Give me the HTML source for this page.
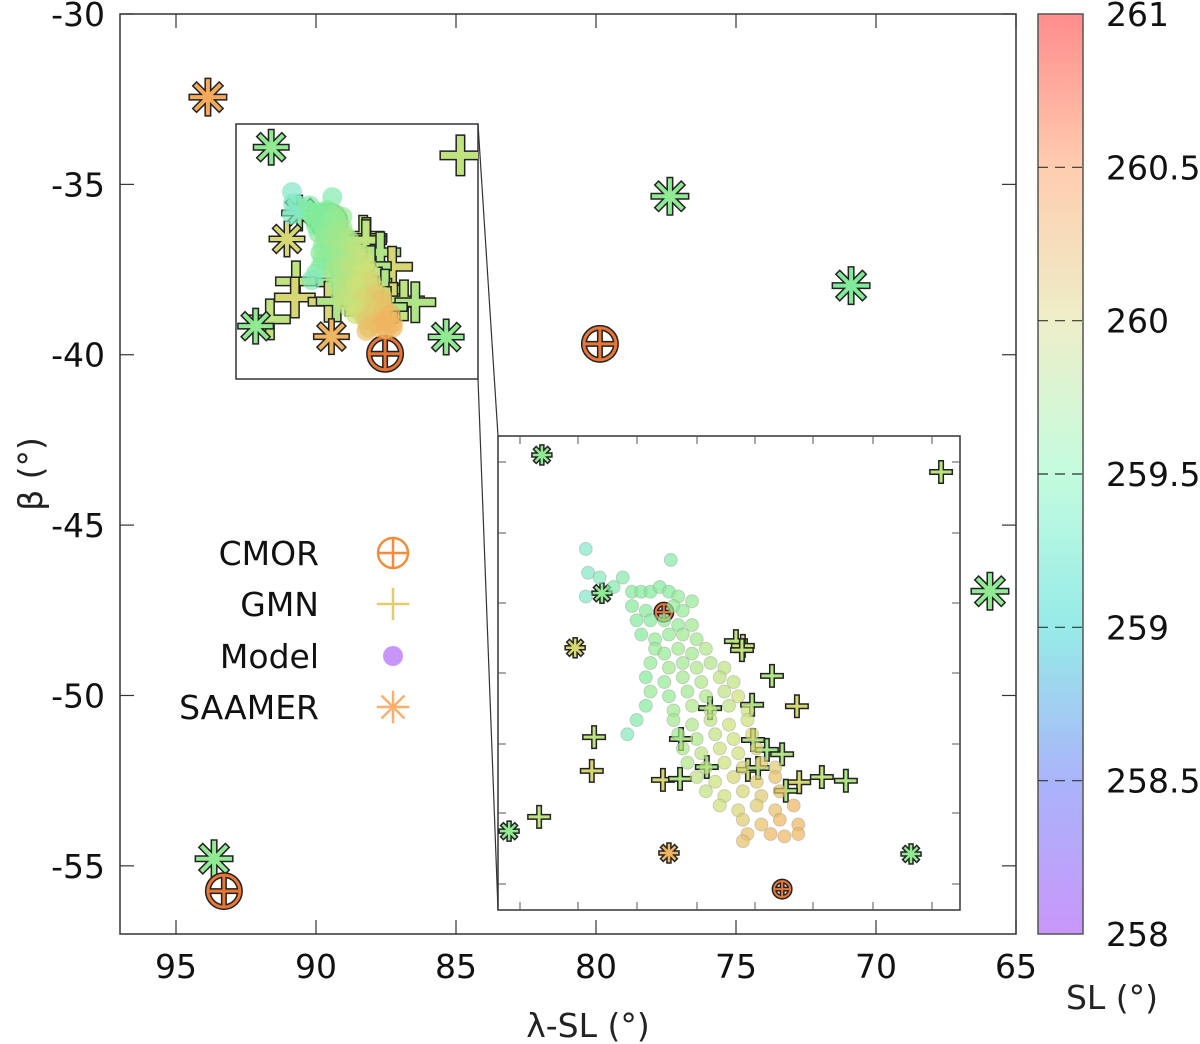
<!DOCTYPE html>
<html><head><meta charset="utf-8">
<style>
html,body{margin:0;padding:0;background:#fff;}
svg{display:block;font-family:"DejaVu Sans","Liberation Sans",sans-serif;}
</style></head>
<body>
<svg id="chart" width="1200" height="1044" viewBox="0 0 1200 1044" xmlns="http://www.w3.org/2000/svg">
<defs>
<clipPath id="clip1"><rect x="236" y="125" width="242" height="253"/></clipPath>
<clipPath id="clip2"><rect x="498" y="436" width="462" height="474"/></clipPath>
<linearGradient id="cbgrad" x1="0" y1="1" x2="0" y2="0">
<stop offset="0" stop-color="rgb(200,150,250)"/>
<stop offset="0.1667" stop-color="rgb(170,180,250)"/>
<stop offset="0.3333" stop-color="rgb(150,235,232)"/>
<stop offset="0.5" stop-color="rgb(195,252,222)"/>
<stop offset="0.6667" stop-color="rgb(238,238,200)"/>
<stop offset="0.8333" stop-color="rgb(255,205,175)"/>
<stop offset="1" stop-color="rgb(255,140,140)"/>
</linearGradient>
</defs>
<g id="main"></g>
</svg>
<script>
// ---- data ----
const xTicks = [95, 90, 85, 80, 75, 70, 65];
const yTicks = [-30, -35, -40, -45, -50, -55];
const cbTicks = [258, 258.5, 259, 259.5, 260, 260.5, 261];
const cbLabels = ["258", "258.5", "259", "259.5", "260", "260.5", "261"];
// main-plot markers (λ-SL, β, SL)
const mainSaamerLam = [93.86, 77.36, 70.89, 65.93, 93.64];
const mainSaamerBeta = [-32.44, -35.35, -37.97, -46.94, -54.79];
const mainSaamerSL = [260.5, 259.6, 259.5, 259.6, 259.6];
const mainCmorLam = [79.86, 93.29];
const mainCmorBeta = [-39.68, -55.74];
// inset data (inset units u, v)
const gmnU = [9.59,5.15,5.30,5.28,5.93,6.47,5.50,4.59,2.08,3.96,5.52,5.82,6.15,2.03,4.52,5.41,5.63,3.57,3.94,6.52,7.01,7.53,6.23,0.89];
const gmnV = [0.78,4.34,4.44,4.53,5.07,5.71,5.68,5.75,6.36,6.40,6.42,6.63,6.72,7.07,6.99,7.05,7.01,7.26,7.24,7.31,7.20,7.28,7.49,8.04];
const gmnSL = [259.9,259.9,260.0,259.9,259.8,260.1,259.8,259.7,259.9,259.8,259.8,259.7,259.8,260.1,259.7,260.0,259.8,260.1,259.8,260.1,259.9,259.8,259.8,259.9];
const saamerU = [0.95,2.25,1.67,0.24,3.70,8.94];
const saamerV = [0.42,3.33,4.48,8.34,8.80,8.82];
const saamerSL = [259.6,259.6,260.1,259.6,260.4,259.6];
const cmorU = [3.59,6.15];
const cmorV = [3.73,9.56];
const modelU = [1.9,3.74,1.95,2.2,2.7,2.5,1.9,2.9,3.1,3.3,3.5,3.7,3.9,4.2,2.9,3.2,3.8,4.0,3.0,3.3,3.6,3.9,4.2,3.1,3.4,3.7,4.0,4.3,3.4,3.6,3.9,4.2,4.5,3.3,3.7,4.0,4.3,4.6,4.9,3.2,3.6,4.0,4.4,4.8,5.1,3.3,3.7,4.1,4.5,4.9,5.2,3.2,3.8,4.2,4.6,5.0,5.4,3.0,3.8,4.2,4.6,5.0,5.4,2.8,3.9,4.3,4.7,5.1,5.5,4.0,4.4,4.8,5.2,5.6,4.1,4.5,4.9,5.3,5.7,6.0,4.3,4.7,5.1,5.6,6.0,4.5,4.9,5.3,5.7,6.1,4.8,5.2,5.6,6.0,6.4,5.3,5.7,6.1,6.5,5.4,5.9,6.2,6.5,5.3];
const modelV = [2.4,2.63,2.9,3.0,3.0,3.2,3.4,3.3,3.3,3.3,3.2,3.3,3.4,3.5,3.6,3.7,3.6,3.7,3.9,3.9,3.9,4.0,4.0,4.2,4.3,4.2,4.2,4.3,4.5,4.6,4.5,4.6,4.5,4.8,4.9,4.8,4.9,4.8,4.9,5.1,5.2,5.1,5.2,5.1,5.2,5.4,5.5,5.4,5.5,5.4,5.5,5.7,5.8,5.7,5.8,5.7,5.8,6.0,6.0,6.1,6.0,6.1,6.0,6.3,6.3,6.4,6.3,6.4,6.3,6.6,6.7,6.6,6.7,6.6,6.9,7.0,6.9,7.0,6.9,7.0,7.2,7.3,7.2,7.3,7.2,7.5,7.6,7.5,7.6,7.5,7.8,7.9,7.8,7.9,7.8,8.1,8.2,8.1,8.2,8.4,8.4,8.45,8.4,8.55];
const modelSL = [259.2,259.4,259.2,259.3,259.4,259.4,259.2,259.5,259.5,259.5,259.5,259.5,259.6,259.6,259.5,259.5,259.6,259.6,259.5,259.5,259.6,259.6,259.7,259.5,259.6,259.6,259.7,259.7,259.6,259.6,259.7,259.7,259.8,259.6,259.7,259.7,259.8,259.8,259.9,259.5,259.6,259.7,259.8,259.9,259.9,259.6,259.6,259.7,259.8,259.9,260.0,259.5,259.7,259.8,259.9,259.9,260.0,259.4,259.7,259.8,259.9,260.0,260.0,259.3,259.7,259.8,259.9,260.0,260.1,259.8,259.9,260.0,260.0,260.1,259.8,259.9,260.0,260.1,260.2,260.2,259.9,260.0,260.1,260.2,260.3,259.9,260.0,260.1,260.2,260.3,260.0,260.1,260.2,260.3,260.4,260.2,260.3,260.4,260.4,260.3,260.4,260.4,260.4,260.3];

// ---- scales ----
const X0=120, X1=1016, Y0=14, Y1=934;
const xMain = l => X0 + (97 - l) / 32 * (X1 - X0);
const yMain = b => Y0 + (-30 - b) / 27 * (Y1 - Y0);
const CB_X=1038, CB_W=45;
const yCb = s => Y1 - (s - 258) / 3 * (Y1 - Y0);
const xIn2 = u => 498 + u * 46.2;
const yIn2 = v => 435 + v * 47.5;
const xIn1 = u => 250.4 + u * 21.9;
const yIn1 = v => 137.7 + v * 22.6;

const stops = [[258,[200,150,250]],[258.5,[160,175,250]],[259,[130,228,228]],[259.5,[130,235,155]],[260,[205,225,120]],[260.5,[248,170,90]],[261,[255,140,140]]];
function cmap(s){
  if(s<=stops[0][0]) return 'rgb('+stops[0][1]+')';
  for(let i=1;i<stops.length;i++){
    if(s<=stops[i][0]){
      const t=(s-stops[i-1][0])/(stops[i][0]-stops[i-1][0]);
      const a=stops[i-1][1], b=stops[i][1];
      return 'rgb('+a.map((c,k)=>Math.round(c+(b[k]-c)*t)).join(',')+')';
    }
  }
  return 'rgb('+stops[stops.length-1][1]+')';
}

const NS='http://www.w3.org/2000/svg';
const root=document.getElementById('main');
function el(tag, attrs, parent){
  const e=document.createElementNS(NS,tag);
  for(const k in attrs) e.setAttribute(k,attrs[k]);
  (parent||root).appendChild(e);
  return e;
}

function drawStar(g,cx,cy,r,col,outline,sw){
  const grp=el('g',{},g);
  
  
  const angs=[0,45,90,135];
  if(outline){
    angs.forEach(a=>{const c=Math.cos(a*Math.PI/180)*r,s=Math.sin(a*Math.PI/180)*r;
      el('line',{x1:cx-c,y1:cy-s,x2:cx+c,y2:cy+s,stroke:'#222','stroke-width':sw+3,'stroke-linecap':'square'},grp);});
  }
  angs.forEach(a=>{const c=Math.cos(a*Math.PI/180)*r,s=Math.sin(a*Math.PI/180)*r;
    el('line',{x1:cx-c,y1:cy-s,x2:cx+c,y2:cy+s,stroke:col,'stroke-width':sw,'stroke-linecap':'square'},grp);});
}
function drawPlus(g,cx,cy,r,col,outline,sw){
  const grp=el('g',{},g);
  
  
  if(outline){
    el('path',{d:`M${cx-r},${cy}H${cx+r}M${cx},${cy-r}V${cy+r}`,stroke:'#222','stroke-width':sw+3,'stroke-linecap':'square',fill:'none'},grp);
  }
  el('path',{d:`M${cx-r},${cy}H${cx+r}M${cx},${cy-r}V${cy+r}`,stroke:col,'stroke-width':sw,'stroke-linecap':'square',fill:'none'},grp);
}
function drawCmor(g,cx,cy,r,col,outline,sw){
  const grp=el('g',{},g);
  
  
  if(outline){
    el('circle',{cx:cx,cy:cy,r:r,fill:'#fff',stroke:'#222','stroke-width':sw+3},grp);
    el('path',{d:`M${cx-r},${cy}H${cx+r}M${cx},${cy-r}V${cy+r}`,stroke:'#222','stroke-width':sw+3},grp);
  }
  el('circle',{cx:cx,cy:cy,r:r,fill:'none',stroke:col,'stroke-width':sw},grp);
  el('path',{d:`M${cx-r},${cy}H${cx+r}M${cx},${cy-r}V${cy+r}`,stroke:col,'stroke-width':sw},grp);
}

// ---- frame and ticks ----
const frame=el('rect',{x:X0,y:Y0,width:X1-X0,height:Y1-Y0,fill:'none',stroke:'#333','stroke-width':1.5});


xTicks.forEach(t=>{
  const x=xMain(t);
  el('line',{x1:x,y1:Y1,x2:x,y2:Y1-14,stroke:'#333','stroke-width':1.2});
  el('line',{x1:x,y1:Y0,x2:x,y2:Y0+14,stroke:'#333','stroke-width':1.2});
  const tx=el('text',{x:x,y:978,'font-size':33,'text-anchor':'middle',fill:'#111'});
  tx.textContent=t;
  
  
});
yTicks.forEach(t=>{
  const y=yMain(t);
  el('line',{x1:X0,y1:y,x2:X0+14,y2:y,stroke:'#333','stroke-width':1.2});
  el('line',{x1:X1,y1:y,x2:X1-14,y2:y,stroke:'#333','stroke-width':1.2});
  const tx=el('text',{x:105,y:y+12,'font-size':33,'text-anchor':'end',fill:'#111'});
  tx.textContent=t;
  
  
});
const xt=el('text',{x:588,y:1037,'font-size':33,'text-anchor':'middle',fill:'#222'});
xt.textContent='λ-SL (°)';


const yt=el('text',{x:0,y:0,'font-size':33,'text-anchor':'middle',fill:'#222',transform:'translate(42,474) rotate(-90)'});
yt.textContent='β (°)';



// ---- main markers ----
const mg=el('g',{});


mainSaamerLam.forEach((l,i)=>drawStar(mg,xMain(l),yMain(mainSaamerBeta[i]),16,cmap(mainSaamerSL[i]),true,4));
mainCmorLam.forEach((l,i)=>drawCmor(mg,xMain(l),yMain(mainCmorBeta[i]),16,'rgb(232,118,52)',true,3));

// ---- connector lines ----
el('line',{x1:478,y1:124,x2:498,y2:436,stroke:'#333','stroke-width':1.2});
el('line',{x1:478,y1:379,x2:498,y2:910,stroke:'#333','stroke-width':1.2});

// ---- inset drawing ----
function drawInset(xs,ys,clip,big,name){
  const g=el('g',{'clip-path':'url(#'+clip+')'});
  
  
  const mr=big?10:6.5;
  modelU.forEach((u,i)=>{
    const c=el('circle',{cx:xs(u),cy:ys(modelV[i]),r:mr,fill:cmap(modelSL[i]),'fill-opacity':big?0.7:0.7,stroke:big?'none':'#999','stroke-opacity':0.4,'stroke-width':1});
    
    
  });
  gmnU.forEach((u,i)=>drawPlus(g,xs(u),ys(gmnV[i]),big?16:9,cmap(gmnSL[i]),true,big?7:3));
  saamerU.forEach((u,i)=>drawStar(g,xs(u),ys(saamerV[i]),big?15:8,cmap(saamerSL[i]),true,big?4:2.5));
  cmorU.forEach((u,i)=>drawCmor(g,xs(u),ys(cmorV[i]),big?16:8,'rgb(232,118,52)',true,big?3:2));
  return g;
}
const in1=el('rect',{x:236,y:124,width:242,height:255,fill:'#fff',stroke:'#333','stroke-width':1.5});


drawInset(xIn1,yIn1,'clip1',true,'inset-large-points');
const in2=el('rect',{x:498,y:436,width:462,height:474,fill:'#fff',stroke:'#333','stroke-width':1.5});


[520,578,637,697,755,813,873,932].forEach(x=>{
  el('line',{x1:x,y1:436,x2:x,y2:444,stroke:'#555','stroke-width':1});
  el('line',{x1:x,y1:910,x2:x,y2:902,stroke:'#555','stroke-width':1});
});
[462,533,603,673,744,813,884].forEach(y=>{
  el('line',{x1:498,y1:y,x2:506,y2:y,stroke:'#555','stroke-width':1});
  el('line',{x1:960,y1:y,x2:952,y2:y,stroke:'#555','stroke-width':1});
});
drawInset(xIn2,yIn2,'clip2',false,'inset-detail-points');

// ---- legend ----
const lg=el('g',{});


const legNames=['CMOR','GMN','Model','SAAMER'];
const legY=[553,604,656,707];
legNames.forEach((n,i)=>{
  const t=el('text',{x:319,y:legY[i]+12,'font-size':33,'text-anchor':'end',fill:'#111'},lg);
  t.textContent=n;
  
  
});
drawCmor(lg,393,553,15,'rgb(245,140,60)',false,2.5);
drawPlus(lg,393,604,15,'rgb(225,205,110)',false,2.5);
el('circle',{cx:393,cy:656,r:10,fill:'rgb(200,150,250)'},lg);
drawStar(lg,393,707,15,'rgb(250,175,110)',false,2.5);

// ---- colorbar ----
const cb=el('rect',{x:CB_X,y:Y0,width:CB_W,height:Y1-Y0,fill:'url(#cbgrad)',stroke:'#555','stroke-width':1.5});


cbTicks.forEach((t,i)=>{
  const y=yCb(t);
  if(i>0&&i<cbTicks.length-1){
    el('line',{x1:CB_X,y1:y,x2:CB_X+CB_W,y2:y,stroke:'#333','stroke-width':1.2,'stroke-dasharray':'10,7'});
  }
  const tx=el('text',{x:1106,y:y+12,'font-size':33,fill:'#111'});
  tx.textContent=cbLabels[i];
  
  
});
const cbt=el('text',{x:1112,y:1009,'font-size':33,'text-anchor':'middle',fill:'#222'});
cbt.textContent='SL (°)';


</script>
</body></html>
